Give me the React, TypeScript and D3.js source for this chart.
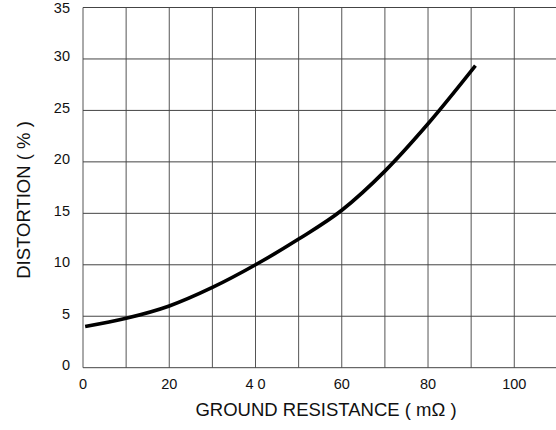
import React from 'react';
import * as d3 from 'd3';

// readings
const resistance = [0.5, 10, 20, 30, 40, 50, 60, 70, 80, 91];
const distortion = [4.0, 4.8, 6.0, 7.8, 10.0, 12.5, 15.3, 19.1, 23.7, 29.35];

const xTicks = [0, 20, 40, 60, 80, 100];
const xTickLabels = ['0', '20', '4 0', '60', '80', '100'];
const yTicks = [0, 5, 10, 15, 20, 25, 30, 35];

const width = 556;
const height = 430;

export default function App() {
  const x = d3.scaleLinear().domain([0, 110]).range([83, 557.4]);
  const y = d3.scaleLinear().domain([0, 35]).range([367.7, 7.5]);

  const pts = resistance.map((r, i) => [r, distortion[i]] as [number, number]);
  const line = d3.line<[number, number]>()
    .x(d => x(d[0]))
    .y(d => y(d[1]))
    .curve(d3.curveMonotoneX);

  const gridX = d3.range(0, 111, 10);
  const font = '"Liberation Sans", Arial, sans-serif';

  return (
    <svg width={width} height={height} style={{ position: 'absolute', left: 0, top: 0, background: '#fff' }} fontFamily={font}>
      <rect x={0} y={0} width={width} height={height} fill="#fff" />
      {/* vertical grid */}
      {gridX.map(v => (
        <line key={'gx' + v} x1={x(v)} x2={x(v)} y1={y(35)} y2={y(0)} stroke="#555" strokeWidth={1} />
      ))}
      {/* horizontal grid */}
      {yTicks.map(v => (
        <line key={'gy' + v} x1={x(0)} x2={width} y1={y(v)} y2={y(v)} stroke="#444" strokeWidth={1} />
      ))}
      <path d={line(pts) || ''} fill="none" stroke="#000" strokeWidth={3.6} strokeLinecap="butt" strokeLinejoin="round" />
      {yTicks.map(v => (
        <text key={'ty' + v} x={70} y={Math.max(y(v) - 1.5, 9.5)} textAnchor="end" dominantBaseline="middle" fontSize={14.5} fill="#111">{v}</text>
      ))}
      {xTicks.map((v, i) => (
        <text key={'tx' + v} x={x(v)} y={388.5} textAnchor="middle" fontSize={14.5} fill="#111">{xTickLabels[i]}</text>
      ))}
      <text x={326} y={416} textAnchor="middle" fontSize={18.5} fill="#111">GROUND RESISTANCE ( mΩ )</text>
      <text transform={`translate(30,200) rotate(-90)`} textAnchor="middle" fontSize={18.5} fill="#111">DISTORTION ( % )</text>
    </svg>
  );
}
